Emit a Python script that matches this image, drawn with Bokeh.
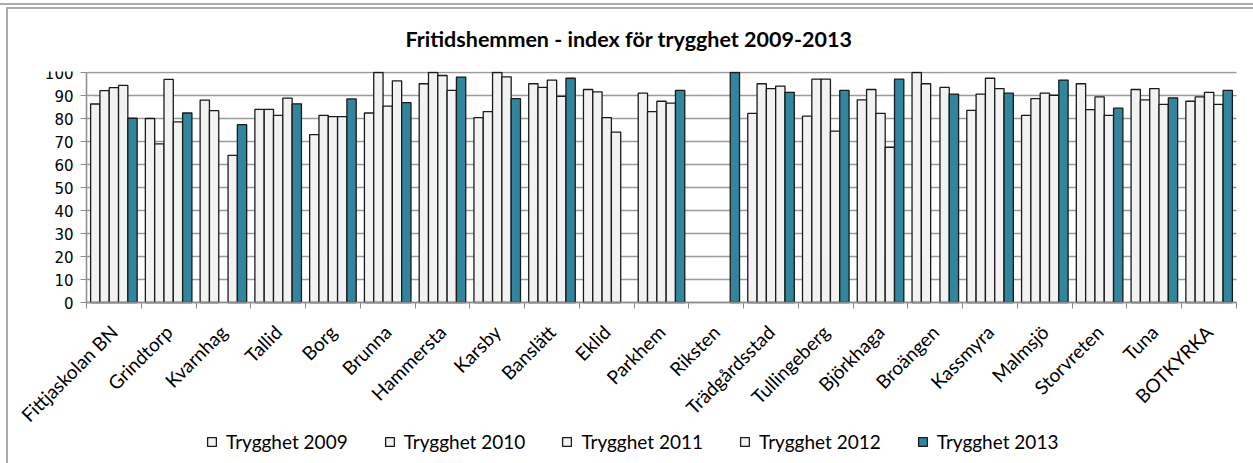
import numpy as np
from math import pi
from bokeh.plotting import figure
from bokeh.models import (ColumnDataSource, Range1d, FixedTicker, Legend, LegendItem)
from bokeh.transform import dodge
from bokeh.embed import file_html
from bokeh.resources import INLINE

nan = float("nan")

title_text = "Fritidshemmen - index för trygghet 2009-2013"
categories = ["Fittjaskolan BN", "Grindtorp", "Kvarnhag", "Tallid", "Borg", "Brunna",
              "Hammersta", "Karsby", "Banslätt", "Eklid", "Parkhem", "Riksten",
              "Trädgårdsstad", "Tullingeberg", "Björkhaga", "Broängen", "Kassmyra",
              "Malmsjö", "Storvreten", "Tuna", "BOTKYRKA"]
series_names = ["Trygghet 2009", "Trygghet 2010", "Trygghet 2011", "Trygghet 2012", "Trygghet 2013"]
t2009 = [86.3, 80.0, 88.0, 84.0, 73.0, 82.4, 95.1, 80.4, 95.1, 92.6, 91.0, nan, 82.2, 81.0, 88.1, 100.0, 83.5, 81.4, 95.1, 92.6, 87.5]
t2010 = [92.1, 69.0, 83.4, 84.0, 81.4, 100.0, 100.0, 83.0, 93.5, 91.6, 83.0, nan, 95.1, 97.1, 92.6, 95.1, 90.6, 88.6, 83.9, 88.1, 89.4]
t2011 = [93.4, 97.0, nan, 81.4, 80.8, 85.4, 98.7, 100.0, 96.7, 80.4, 87.5, nan, 93.0, 97.1, 82.2, nan, 97.5, 91.0, 89.4, 93.0, 91.4]
t2012 = [94.4, 78.5, 64.0, 88.9, 80.8, 96.4, 92.2, 98.1, 89.6, 74.1, 86.7, nan, 94.1, 74.5, 67.5, 93.5, 93.0, 90.1, 81.4, 86.1, 86.1]
t2013 = [80.1, 82.4, 77.3, 86.4, 88.5, 86.9, 98.0, 88.6, 97.5, nan, 92.2, 100.0, 91.4, 92.2, 97.1, 90.6, 91.0, 96.7, 84.5, 89.0, 92.2]
y_ticks = [0, 10, 20, 30, 40, 50, 60, 70, 80, 90, 100]

series = [t2009, t2010, t2011, t2012, t2013]
fills = ["#F2F2F2", "#F2F2F2", "#F2F2F2", "#F2F2F2", "#31859C"]

n = len(categories)
pos = np.arange(1, n + 1)
data = dict(pos=pos)
for i, s in enumerate(series):
    data[f"s{i}"] = np.array(s, dtype=float)
src = ColumnDataSource(data)

# ---- layout (pixels) ----
W, H = 1253, 463
plot_left, plot_right, plot_top, plot_zero = 86, 1236, 72, 302
frame_left, frame_top = 8, 71
x_lo, x_hi = 0.5, n + 0.5
px_x = (plot_right - plot_left) / (x_hi - x_lo)
px_y = (plot_zero - plot_top) / 100.0
x_start = x_lo - (plot_left - frame_left) / px_x
x_end = x_hi + (W - plot_right) / px_x
y_start = -(H - plot_zero) / px_y
y_end = 100 + (plot_top - frame_top) / px_y

p = figure(width=W, height=H, output_backend="svg", toolbar_location=None,
           x_range=Range1d(x_start, x_end), y_range=Range1d(y_start, y_end),
           min_border_left=frame_left, min_border_right=0, min_border_top=frame_top,
           min_border_bottom=0, outline_line_color=None,
           background_fill_color=None, border_fill_color=None)

# horizontal gridlines limited to the plot area
grid_src = ColumnDataSource(dict(y=y_ticks, x0=[x_lo] * len(y_ticks), x1=[x_hi] * len(y_ticks)))
p.segment(x0="x0", x1="x1", y0="y", y1="y", source=grid_src,
          line_color="#9a9a9a", line_width=1.5)

bw = 0.17
renderers = []
for i in range(5):
    off = (i - 2) * bw
    r = p.vbar(x=dodge("pos", off), top=f"s{i}", bottom=0, width=bw, source=src,
               fill_color=fills[i], line_color="#1a1a1a", line_width=1.3)
    renderers.append(r)

# title
p.title.text = title_text
p.title.align = "left"
p.title.offset = 405 - frame_left
p.title.standoff = 40
p.title.text_font = "Lato"
p.title.text_font_style = "bold"
p.title.text_font_size = "21.5px"
p.title.text_color = "#000000"

# x axis: labels at centers, ticks at boundaries, fixed at y = 0
xa = p.xaxis[0]
xa.fixed_location = 0
xa.bounds = (x_lo, x_hi)
xa.ticker = FixedTicker(ticks=list(pos), minor_ticks=list(np.arange(x_lo, x_hi + 0.5, 1.0)))
xa.major_label_overrides = {int(k): c for k, c in zip(pos, categories)}
xa.major_label_orientation = pi / 4
xa.major_tick_in = 0
xa.major_tick_out = 0
xa.major_tick_line_color = None
xa.minor_tick_in = 0
xa.minor_tick_out = 6
xa.minor_tick_line_color = "#8c8c8c"
xa.axis_line_color = "#8c8c8c"
xa.axis_line_width = 1.5
xa.major_label_standoff = 20
xa.major_label_text_font = "Lato"
xa.major_label_text_font_size = "19px"
xa.major_label_text_color = "#000000"

ya = p.yaxis[0]
ya.fixed_location = x_lo
ya.bounds = (0, 100)
ya.ticker = FixedTicker(ticks=y_ticks)
ya.major_tick_in = 0
ya.major_tick_out = 6
ya.minor_tick_line_color = None
ya.major_tick_line_color = "#8c8c8c"
ya.axis_line_color = "#8c8c8c"
ya.axis_line_width = 1.5
ya.major_label_standoff = 7
ya.major_label_text_font = "DejaVu Sans"
ya.major_label_text_font_size = "15px"
ya.major_label_text_color = "#000000"

p.xgrid.visible = False
p.ygrid.visible = False

legend = Legend(items=[LegendItem(label=series_names[i], renderers=[renderers[i]]) for i in range(5)],
                orientation="horizontal", location=(206 - frame_left, 10),
                glyph_width=11, glyph_height=11, label_standoff=9, spacing=36,
                padding=0, margin=0, border_line_color=None, background_fill_alpha=0,
                label_text_font="Lato", label_text_font_size="19px",
                label_text_color="#000000")
p.add_layout(legend, "center")

p.styles = {"background": ("linear-gradient(#ababab,#ababab) 6px 8px / 2px 100% no-repeat, "
                           "linear-gradient(#ababab,#ababab) 6px 7px / 100% 2px no-repeat, "
                           "linear-gradient(#ababab,#ababab) 0px 3px / 100% 2px no-repeat, #ffffff")}

open("out.html", "w").write(file_html(p, INLINE))
